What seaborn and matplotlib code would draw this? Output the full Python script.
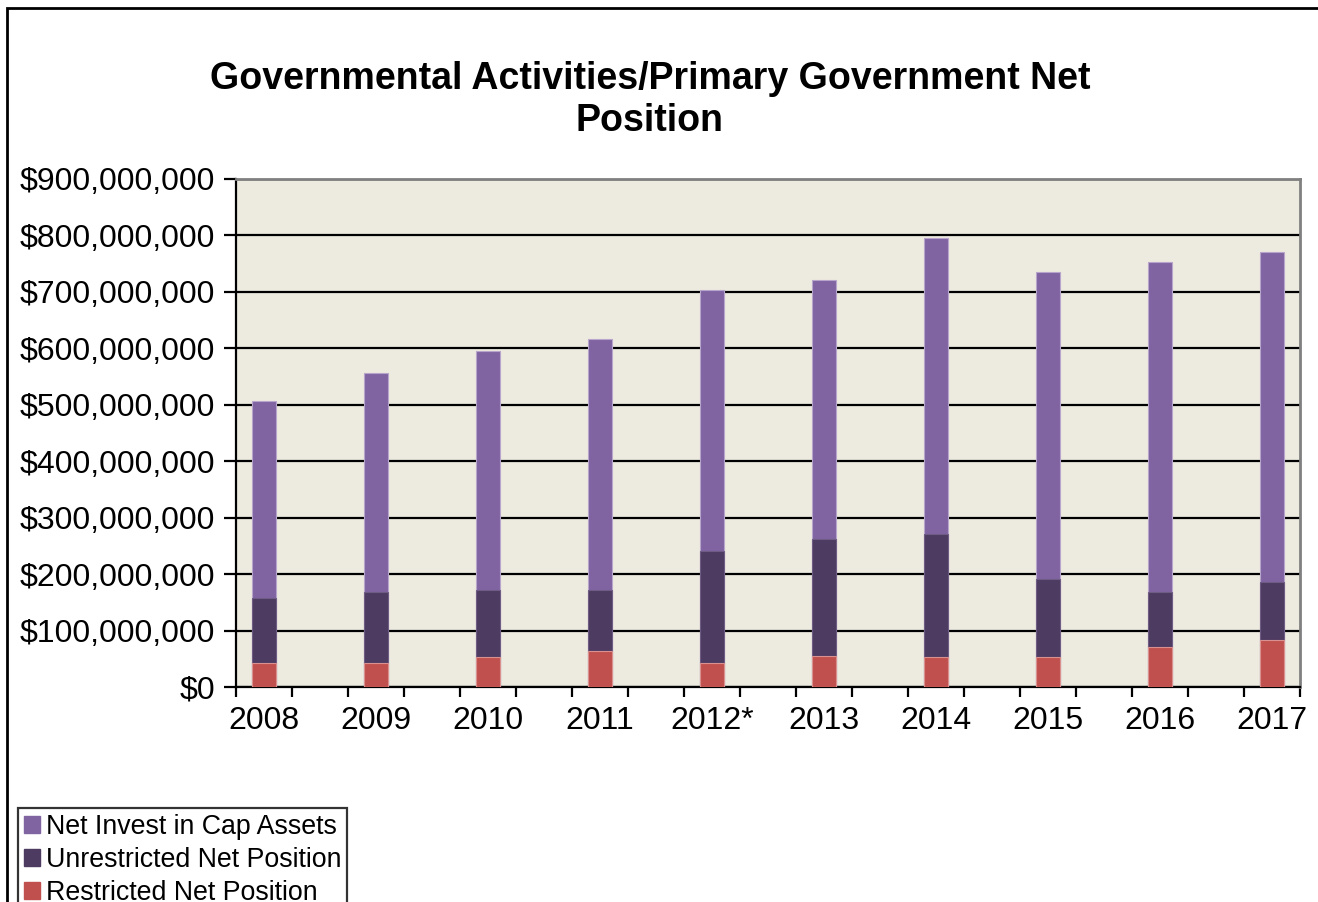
import matplotlib
matplotlib.use("Agg")
import matplotlib.pyplot as plt
from matplotlib.patches import Patch, Rectangle
from matplotlib.ticker import FuncFormatter, FixedLocator
import numpy as np
import pandas as pd
import seaborn as sns

years = ["2008", "2009", "2010", "2011", "2012*", "2013", "2014", "2015", "2016", "2017"]
restricted = [42.0, 42.0, 52.6, 63.2, 42.0, 55.5, 52.6, 52.6, 70.3, 83.8]          # $M
unrestricted = [115.0, 125.8, 118.7, 108.1, 199.0, 207.3, 217.9, 139.3, 98.0, 101.7]  # $M
net_invest = [349.7, 389.0, 423.4, 444.6, 462.4, 458.2, 525.0, 543.9, 585.3, 585.2]  # $M
series_names = ["Net Invest in Cap Assets", "Unrestricted Net Position", "Restricted Net Position"]
colors = ["#8064A2", "#4D3B62", "#C0504D"]
edge_colors = ["#B7A5CC", "#6E5C85", "#D9908E"]

df = pd.DataFrame({
    "year": years,
    "restricted": np.array(restricted) * 1e6,
    "unrestricted": np.array(unrestricted) * 1e6,
    "net_invest": np.array(net_invest) * 1e6,
})
df["lvl2"] = df["restricted"] + df["unrestricted"]
df["lvl3"] = df["lvl2"] + df["net_invest"]

sns.set_style("white")
plt.rcParams["font.family"] = ["Liberation Sans", "DejaVu Sans"]
plt.rcParams["text.color"] = "black"
plt.rcParams["xtick.color"] = "black"
plt.rcParams["ytick.color"] = "black"
plt.rcParams["xtick.labelcolor"] = "black"
plt.rcParams["ytick.labelcolor"] = "black"

fig = plt.figure(figsize=(13.18, 9.02), dpi=100)
ax = fig.add_axes([236 / 1318, 1 - 687 / 902, (1300 - 236) / 1318, (687 - 179) / 902])
ax.set_facecolor("#EDEAE0")

for col, c, ec in zip(["lvl3", "lvl2", "restricted"], colors, edge_colors):
    sns.barplot(data=df, x="year", y=col, order=years, color=c, ax=ax,
                width=0.21, edgecolor=ec, linewidth=0.8, saturation=1, zorder=3)

ax.set_xlim(-0.25, 9.25)
ax.set_ylim(0, 900e6)
ax.set_xlabel("")
ax.set_ylabel("")

ax.yaxis.set_major_locator(FixedLocator(np.arange(0, 900e6 + 1, 100e6)))
ax.yaxis.set_major_formatter(FuncFormatter(lambda v, p: "${:,.0f}".format(v)))
ax.grid(axis="y", color="black", linewidth=1.6, zorder=1)
ax.set_axisbelow(True)

ax.set_xticks(range(len(years)))
ax.set_xticklabels(years)
ax.xaxis.set_minor_locator(FixedLocator(np.arange(-0.25, 9.26, 0.5)))
ax.tick_params(axis="x", which="major", length=0, pad=14, labelsize=23)
ax.tick_params(axis="x", which="minor", length=7, width=1.6, direction="out", color="black", bottom=True)
ax.tick_params(axis="y", which="major", length=9, width=1.6, direction="out", color="black",
               left=True, pad=6, labelsize=23)

for s in ["left", "bottom"]:
    ax.spines[s].set_color("black")
    ax.spines[s].set_linewidth(1.6)
for s in ["top", "right"]:
    ax.spines[s].set_color("#808080")
    ax.spines[s].set_linewidth(2)

fig.text(0.493, 1 - 100 / 902, "Governmental Activities/Primary Government Net\nPosition",
         ha="center", va="center", fontsize=27, fontweight="bold", linespacing=1.22, color="black")

# outer chart border
fig.patches.append(Rectangle((7 / 1318, -0.2), 1.2, 1.2 - 8 / 902, transform=fig.transFigure,
                             fill=False, edgecolor="black", linewidth=2, clip_on=False))

handles = [Patch(facecolor=c, edgecolor=c) for c in colors]
leg = fig.legend(handles, series_names, loc="upper left",
                 bbox_to_anchor=(18 / 1318, 1 - 808 / 902), bbox_transform=fig.transFigure,
                 fontsize=19.3, frameon=True, fancybox=False, edgecolor="black",
                 handlelength=0.6, handleheight=0.6, handletextpad=0.22, labelspacing=0.27,
                 borderpad=0.22, borderaxespad=0)
leg.get_frame().set_linewidth(1.6)
for t in leg.get_texts():
    t.set_color("black")

fig.savefig("out.png", dpi=100)
